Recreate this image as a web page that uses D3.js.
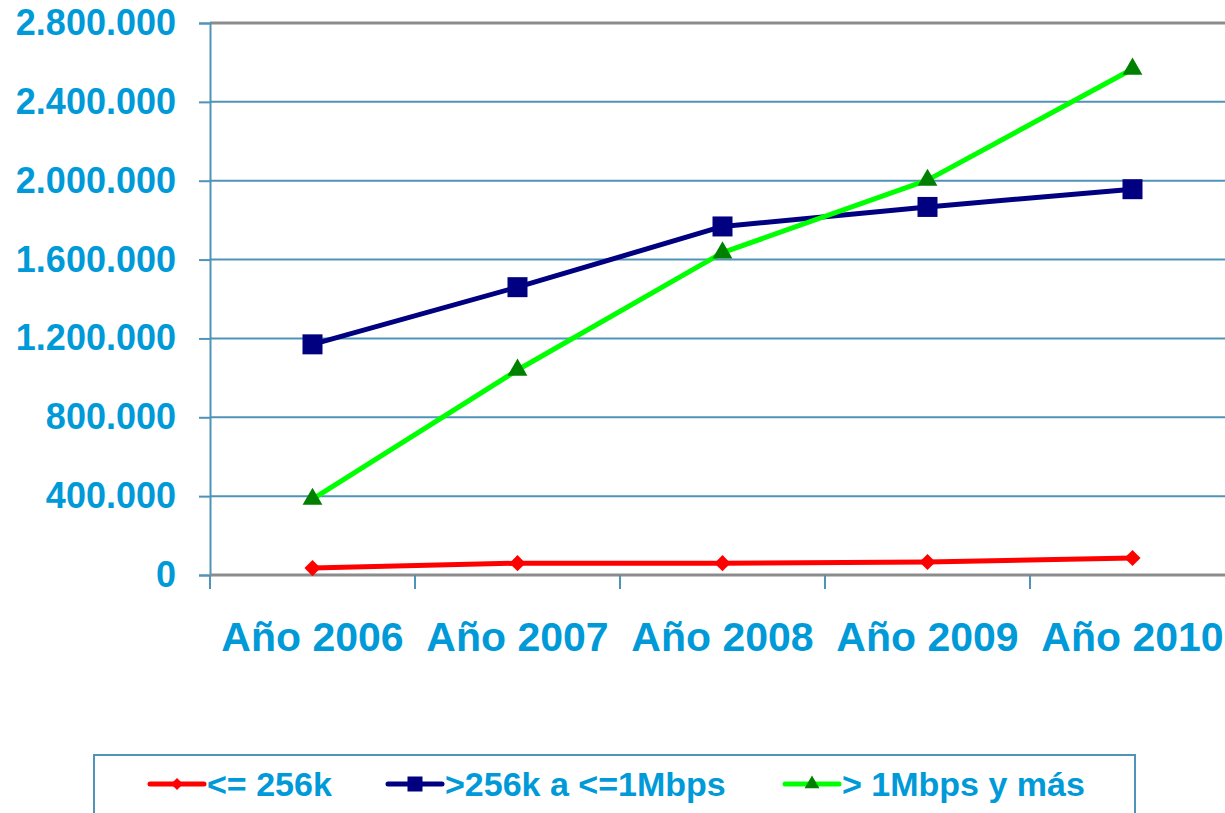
<!DOCTYPE html>
<html>
<head>
<meta charset="utf-8">
<script src="https://cdn.jsdelivr.net/npm/d3@7"></script>
<style>
  body { margin: 0; background: #fff; }
  svg { display: block; font-family: "Liberation Sans", Arial, sans-serif; font-weight: bold; }
</style>
</head>
<body>
<svg id="chart" width="1225" height="813"></svg>
<script>
// data
const years = ["Año 2006", "Año 2007", "Año 2008", "Año 2009", "Año 2010"]
const low = [35000, 60000, 60000, 66000, 86000]
const mid = [1170000, 1460000, 1768000, 1867000, 1957000]
const high = [385000, 1040000, 1635000, 2003000, 2567000]
const yTicks = [0, 400000, 800000, 1200000, 1600000, 2000000, 2400000, 2800000]

const series = [
  { name: "<= 256k", values: low, line: "#ff0000", mark: "#ff0000", shape: "diamond" },
  { name: ">256k a <=1Mbps", values: mid, line: "#000080", mark: "#000080", shape: "square" },
  { name: "> 1Mbps y más", values: high, line: "#00ff00", mark: "#008000", shape: "triangle" }
]

const textColor = "#009ad8"
const gridColor = "#4f93b8"

const svg = d3.select('#chart')

const x = d3.scaleBand().domain(years).range([210, 1235]).padding(0)
const y = d3.scaleLinear().domain([0, 2800000]).range([575, 23])

const es = d3.formatLocale({ decimal: ",", thousands: ".", grouping: [3], currency: ["", "€"] })
const fmt = es.format(",d")

// gridlines
svg.append('g')
  .selectAll('line')
  .data(yTicks.slice(1))
  .enter()
  .append('line')
  .attr('x1', 210).attr('x2', 1225)
  .attr('y1', d => y(d)).attr('y2', d => y(d))
  .attr('stroke', d => d === 2800000 ? "#8c8c8c" : gridColor)
  .attr('stroke-width', d => d === 2800000 ? 3 : 2)

// y axis
const yAxis = svg.append('g')
  .attr('transform', 'translate(210,0)')
  .call(d3.axisLeft(y).tickValues(yTicks).tickFormat(fmt).tickSize(11).tickPadding(23))
yAxis.select('.domain').attr('stroke', gridColor).attr('stroke-width', 2)
yAxis.selectAll('.tick line').attr('stroke', gridColor).attr('stroke-width', 2)
yAxis.selectAll('text')
  .attr('fill', textColor)
  .style('font-size', '36px')
  .style('font-weight', 'bold')

// x axis
const xAxis = svg.append('g')
  .attr('transform', 'translate(0,575)')
  .call(d3.axisBottom(x).tickSize(0).tickPadding(47))
xAxis.select('.domain').remove()
xAxis.selectAll('text')
  .attr('fill', textColor)
  .style('font-size', '41px')
  .style('font-weight', 'bold')

svg.append('line')
  .attr('x1', 210).attr('x2', 1225)
  .attr('y1', 575).attr('y2', 575)
  .attr('stroke', "#8c8c8c").attr('stroke-width', 3)

// category separators below the axis
svg.append('g')
  .selectAll('line')
  .data(years)
  .enter()
  .append('line')
  .attr('x1', d => x(d)).attr('x2', d => x(d))
  .attr('y1', 575).attr('y2', 589)
  .attr('stroke', gridColor).attr('stroke-width', 2)

const symbolFor = {
  diamond: d3.symbol().type(d3.symbolSquare).size(130),
  square: d3.symbol().type(d3.symbolSquare).size(400),
  triangle: d3.symbol().type(d3.symbolTriangle).size(170)
}
const rotate = { diamond: " rotate(45)", square: "", triangle: "" }

const cx = d => x(d) + x.bandwidth() / 2
const line = d3.line().x((d, i) => cx(years[i])).y(d => y(d))

series.forEach(s => {
  svg.append('path')
    .datum(s.values)
    .attr('d', line)
    .attr('fill', 'none')
    .attr('stroke', s.line)
    .attr('stroke-width', 5)
    .attr('stroke-linejoin', 'round')

  svg.append('g')
    .selectAll('path')
    .data(s.values)
    .enter()
    .append('path')
    .attr('d', symbolFor[s.shape])
    .attr('transform', (d, i) => "translate(" + cx(years[i]) + "," + y(d) + ")" + rotate[s.shape])
    .attr('fill', s.mark)
})

// legend
svg.append('rect')
  .attr('x', 94).attr('y', 755)
  .attr('width', 1041).attr('height', 80)
  .attr('fill', 'none')
  .attr('stroke', gridColor).attr('stroke-width', 2)

const legendX = [150, 388, 785]
series.forEach((s, i) => {
  const g = svg.append('g').attr('transform', "translate(" + legendX[i] + ",784)")
  g.append('line')
    .attr('x1', 0).attr('x2', 54)
    .attr('stroke', s.line).attr('stroke-width', 5).attr('stroke-linecap', 'round')
  g.append('path')
    .attr('d', symbolFor[s.shape])
    .attr('transform', "translate(27,0) scale(0.75)" + rotate[s.shape])
    .attr('fill', s.mark)
  g.append('text')
    .attr('x', 57).attr('y', 12)
    .attr('fill', textColor)
    .style('font-size', '34px')
    .text(s.name)
})
</script>
</body>
</html>
